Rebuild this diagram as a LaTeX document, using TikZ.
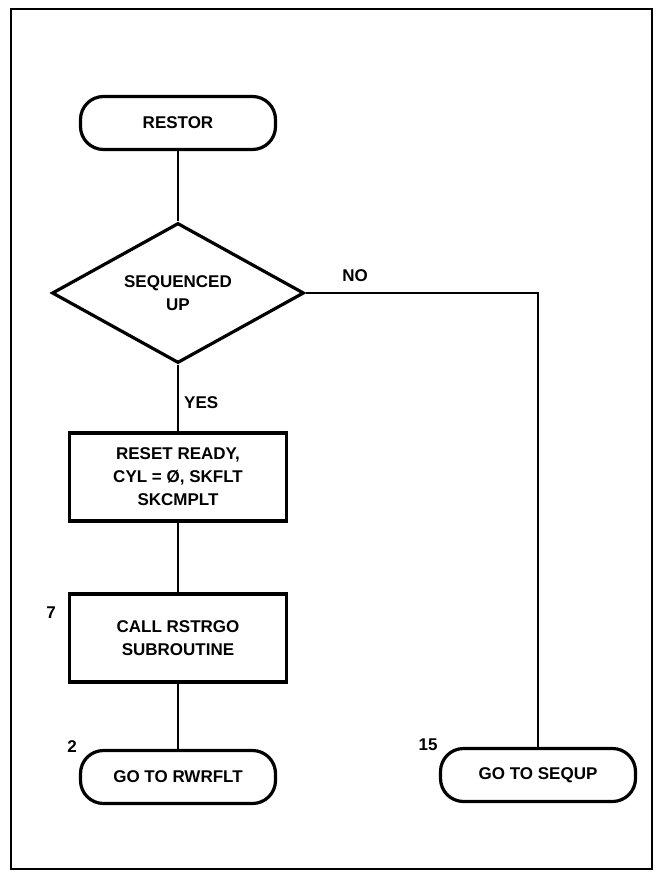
\documentclass[tikz,border=0pt]{standalone}
\usepackage{fontspec}
\setmainfont{Liberation Sans}
\usetikzlibrary{shapes.geometric}
\begin{document}
\begin{tikzpicture}[x=1pt,y=-1pt,
  txt/.style={font=\fontsize{17}{23}\selectfont\bfseries, align=center},
  term/.style={txt, draw, line width=3.2pt, rounded corners=23pt,
    minimum width=195pt, minimum height=53pt, inner sep=0pt},
  proc/.style={txt, draw, line width=3.2pt, minimum width=217pt,
    minimum height=88pt, inner sep=0pt},
  dec/.style={txt, draw, diamond, line width=3.2pt, aspect=1.8,
    minimum width=252pt, minimum height=140pt, inner sep=0pt},
  flow/.style={line width=1.6pt},
  lbl/.style={txt, inner sep=0pt}]
\useasboundingbox (0,0) rectangle (658,872);
% page frame
\draw[line width=1.9pt] (11,9) rectangle (652,869);

% main column
\node[term] (restor) at (178,123) {RESTOR};
\node[dec]  (seq)    at (178,293) {SEQUENCED\\UP};
\node[proc] (reset)  at (178,477) {RESET READY,\\CYL = Ø, SKFLT\\SKCMPLT};
\node[proc] (call)   at (178,638) {CALL RSTRGO\\SUBROUTINE};
\node[term] (rwrflt) at (178,777) {GO TO RWRFLT};
% branch target
\node[term] (sequp)  at (538,775) {GO TO SEQUP};

% connectors
\draw[flow] (restor) -- (seq);
\draw[flow] (seq) -- (reset);
\draw[flow] (reset) -- (call);
\draw[flow] (call) -- (rwrflt);
\draw[flow] (seq.east) -| (sequp.north);

% branch labels and entry numbers
\node[lbl] (no)  at (355,276) {NO};
\node[lbl, anchor=west] (yes) at (184,403) {YES};
\node[lbl] (n7)  at (51,613) {7};
\node[lbl] (n2)  at (72,747) {2};
\node[lbl] (n15) at (428,745) {15};
\end{tikzpicture}
\end{document}
